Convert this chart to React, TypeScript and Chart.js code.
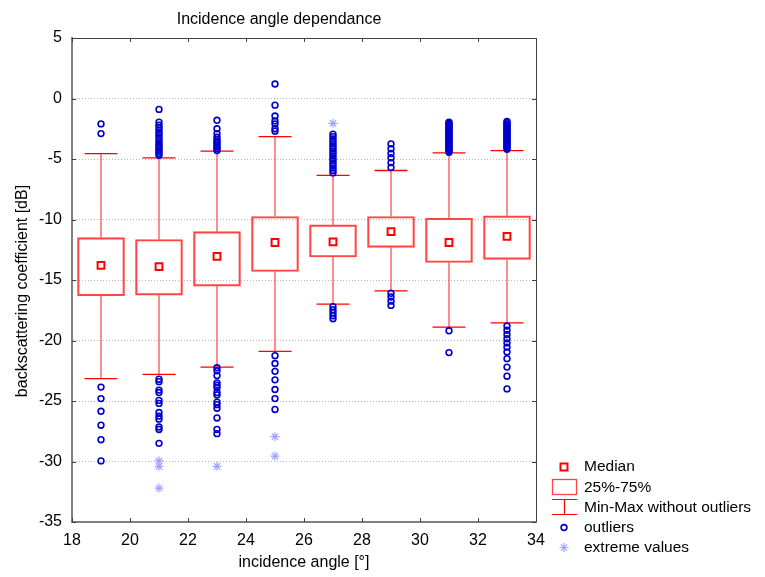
import React, { useEffect, useRef } from "react";
import { Chart, registerables } from "chart.js";

Chart.register(...registerables);

// ---------- data ----------
const angles = [19, 21, 23, 25, 27, 29, 31, 33];
const medians = [-13.8, -13.9, -13.05, -11.9, -11.85, -11.0, -11.9, -11.4];
const q25 = [-16.3, -16.25, -15.5, -14.3, -13.1, -12.3, -13.55, -13.3];
const q75 = [-11.5, -11.65, -11.0, -9.75, -10.45, -9.75, -9.9, -9.7];
const whiskerLow = [-23.15, -22.8, -22.2, -20.9, -17.0, -15.9, -18.9, -18.55];
const whiskerHigh = [-4.55, -4.9, -4.35, -3.15, -6.35, -5.95, -4.5, -4.3];

const outliers19 = [-2.1, -2.9, -23.85, -24.8, -25.85, -27.0, -28.2, -29.95];
const outliers21 = [-0.9, -1.95, -2.2, -2.4, -2.6, -2.8, -3.0, -3.2, -3.4, -3.6, -3.8, -3.95, -4.1, -4.25, -4.4, -4.55, -4.7,
  -23.2, -23.4, -24.1, -24.3, -24.95, -25.2, -25.95, -26.25, -26.5, -27.15, -27.35, -28.5];
const outliers23 = [-1.8, -2.5, -2.9, -3.2, -3.4, -3.55, -3.7, -3.85, -4.0, -4.15, -4.3,
  -22.25, -22.5, -22.9, -23.5, -23.7, -23.9, -24.3, -24.5, -25.1, -25.3, -25.6, -26.4, -27.35, -27.7];
const outliers25 = [1.2, -0.55, -1.45, -1.85, -2.1, -2.5, -2.7, -21.25, -21.9, -22.55, -23.25, -24.05, -24.8, -25.7];
const outliers27 = [-2.95, -3.15, -3.35, -3.55, -3.75, -3.95, -4.15, -4.35, -4.55, -4.75, -4.95, -5.15, -5.35, -5.55, -5.75, -5.95, -6.15,
  -17.2, -17.45, -17.7, -17.95, -18.2];
const outliers29 = [-3.75, -4.15, -4.55, -4.9, -5.3, -5.7, -16.1, -16.4, -16.75, -17.1];
const outliers31 = [-1.95, -2.05, -2.15, -2.25, -2.35, -2.45, -2.55, -2.65, -2.75, -2.85, -2.95, -3.05, -3.15, -3.25, -3.35,
  -3.45, -3.55, -3.65, -3.75, -3.85, -3.95, -4.05, -4.15, -4.25, -4.35, -4.45, -19.2, -21.0];
const outliers33 = [-1.9, -2.0, -2.1, -2.2, -2.3, -2.4, -2.5, -2.6, -2.7, -2.8, -2.9, -3.0, -3.1, -3.2, -3.3, -3.4, -3.5, -3.6,
  -3.7, -3.8, -3.9, -4.0, -4.1, -4.2, -18.8, -19.15, -19.5, -19.85, -20.2, -20.55, -20.95, -21.5, -22.2, -22.95, -24.0];
const outlierSets = [outliers19, outliers21, outliers23, outliers25, outliers27, outliers29, outliers31, outliers33];

const extremes21 = [-29.95, -30.4, -32.2];
const extremes23 = [-30.4];
const extremes25 = [-27.95, -29.55];
const extremes27 = [-2.05];
const extremeSets: [number, number[]][] = [[21, extremes21], [23, extremes23], [25, extremes25], [27, extremes27]];

const xTicks = { min: 18, max: 34, step: 2 };
const yTicks = { min: -35, max: 5, step: 5 };

const chartTitle = "Incidence angle dependance";
const xTitle = "incidence angle [°]";
const yTitle = "backscattering coefficient [dB]";
const legendLabels = ["Median", "25%-75%", "Min-Max without outliers", "outliers", "extreme values"];

// ---------- styles ----------
const FAMILY = '"Liberation Sans", Arial, sans-serif';
const FONT = '16px ' + FAMILY;
const LEGEND_FONT = '15.5px ' + FAMILY;
const RED = "#ff0000";
const BOX_RED = "#ff4545";
const BLUE = "#0000cc";
const LIGHT_BLUE = "#9ea4ff";

function drawStar(ctx: CanvasRenderingContext2D, x: number, y: number, r: number) {
  const d = Math.cos(Math.PI / 4) * r;
  ctx.beginPath();
  ctx.moveTo(x - r, y); ctx.lineTo(x + r, y);
  ctx.moveTo(x, y - r); ctx.lineTo(x, y + r);
  ctx.moveTo(x - d, y - d); ctx.lineTo(x + d, y + d);
  ctx.moveTo(x - d, y + d); ctx.lineTo(x + d, y - d);
  ctx.stroke();
}

const decorPlugin = {
  id: "decor",
  afterDraw(chart: any) {
    const { ctx, chartArea } = chart;
    const { left, right, top, bottom } = chartArea;
    const xs = chart.scales.x;
    const ys = chart.scales.y;
    ctx.save();
    // top/right frame
    ctx.strokeStyle = "#404040";
    ctx.lineWidth = 1;
    ctx.beginPath();
    ctx.moveTo(left, top + 0.5);
    ctx.lineTo(right + 0.5, top + 0.5);
    ctx.lineTo(right + 0.5, bottom);
    ctx.stroke();
    // inner ticks
    ctx.beginPath();
    xs.ticks.forEach((_t: any, i: number) => {
      const px = Math.round(xs.getPixelForTick(i)) + 0.5;
      ctx.moveTo(px, bottom); ctx.lineTo(px, bottom - 4);
      ctx.moveTo(px, top); ctx.lineTo(px, top + 4);
    });
    ys.ticks.forEach((_t: any, i: number) => {
      const py = Math.round(ys.getPixelForTick(i)) + 0.5;
      ctx.moveTo(left, py); ctx.lineTo(left + 4, py);
      ctx.moveTo(right, py); ctx.lineTo(right - 4, py);
    });
    ctx.stroke();

    // titles
    ctx.fillStyle = "#000";
    ctx.font = FONT;
    ctx.textAlign = "center";
    ctx.textBaseline = "alphabetic";
    ctx.fillText(chartTitle, 279, 24);
    ctx.fillText(xTitle, (left + right) / 2, 567);
    ctx.save();
    ctx.translate(27, 291);
    ctx.rotate(-Math.PI / 2);
    ctx.fillText(yTitle, 0, 0);
    ctx.restore();

    // legend
    const sx = 564;
    const rows = [467, 487.5, 507.5, 527.5, 547.5];
    ctx.strokeStyle = RED; ctx.lineWidth = 2;
    ctx.strokeRect(sx - 3.5, rows[0] - 3.5, 7, 7);
    ctx.strokeStyle = BOX_RED; ctx.lineWidth = 1.3;
    ctx.strokeRect(552.5, 479.5, 24, 15);
    ctx.strokeStyle = RED; ctx.lineWidth = 1.2;
    ctx.beginPath();
    ctx.moveTo(552, 499.5); ctx.lineTo(577, 499.5);
    ctx.moveTo(sx + 0.5, 499.5); ctx.lineTo(sx + 0.5, 514.5);
    ctx.moveTo(552, 514.5); ctx.lineTo(577, 514.5);
    ctx.stroke();
    ctx.strokeStyle = BLUE; ctx.lineWidth = 1.6;
    ctx.beginPath(); ctx.arc(sx, rows[3], 2.9, 0, Math.PI * 2); ctx.stroke();
    ctx.strokeStyle = LIGHT_BLUE; ctx.lineWidth = 1.2;
    drawStar(ctx, sx, rows[4], 4.5);

    ctx.fillStyle = "#000";
    ctx.font = LEGEND_FONT;
    ctx.textAlign = "left";
    ctx.textBaseline = "middle";
    legendLabels.forEach((t, i) => ctx.fillText(t, 584, rows[i]));
    ctx.restore();
  },
};

export default function App() {
  const ref = useRef<HTMLCanvasElement | null>(null);
  useEffect(() => {
    document.body.style.margin = "0";
    const canvas = ref.current;
    if (!canvas) return;

    const outlierPts: { x: number; y: number }[] = [];
    outlierSets.forEach((vals, i) => vals.forEach((v) => outlierPts.push({ x: angles[i], y: v })));
    const extremePts: { x: number; y: number }[] = [];
    extremeSets.forEach(([a, vals]) => vals.forEach((v) => extremePts.push({ x: a, y: v })));
    const medianPts = angles.map((a, i) => ({ x: a, y: medians[i] }));
    const capPts: { x: number; y: number }[] = [];
    angles.forEach((a, i) => { capPts.push({ x: a, y: whiskerHigh[i] }); capPts.push({ x: a, y: whiskerLow[i] }); });
    const whiskerPts: { x: number; y: number | null }[] = [];
    angles.forEach((a, i) => {
      whiskerPts.push({ x: a, y: whiskerHigh[i] }, { x: a, y: q75[i] }, { x: a, y: null });
      whiskerPts.push({ x: a, y: q25[i] }, { x: a, y: whiskerLow[i] }, { x: a, y: null });
    });
    const boxData = angles.map((a, i) => ({ x: a, y: [q25[i], q75[i]] }));

    const chart = new Chart(canvas, {
      type: "bar",
      data: {
        datasets: [
          {
            type: "scatter", label: "extreme values", data: extremePts as any,
            pointStyle: "star", pointRadius: 4.5, borderColor: LIGHT_BLUE, backgroundColor: LIGHT_BLUE, borderWidth: 1.2,
          },
          {
            type: "scatter", label: "outliers", data: outlierPts as any,
            pointStyle: "circle", pointRadius: 2.9, borderColor: BLUE, backgroundColor: "rgba(0,0,0,0)", borderWidth: 1.6,
          },
          {
            type: "scatter", label: "Median", data: medianPts as any,
            pointStyle: "rect", pointRadius: 4.8, borderColor: RED, backgroundColor: "rgba(0,0,0,0)", borderWidth: 2,
          },
          {
            type: "scatter", label: "caps", data: capPts as any,
            pointStyle: "line", pointRadius: 16.5, borderColor: RED, backgroundColor: RED, borderWidth: 1.3,
          },
          {
            type: "scatter", label: "whiskers", data: whiskerPts as any, showLine: true, spanGaps: false,
            pointRadius: 0, borderColor: "#ff5050", borderWidth: 1.3,
          } as any,
          {
            type: "bar", label: "25%-75%", data: boxData as any,
            barThickness: 47, borderColor: BOX_RED, borderWidth: 1.5, backgroundColor: "rgba(0,0,0,0)", borderSkipped: false,
          } as any,
        ],
      },
      options: {
        responsive: false,
        animation: false,
        events: [],
        layout: { padding: { top: 38, right: 229, left: 0, bottom: 0 } },
        plugins: { legend: { display: false }, title: { display: false }, tooltip: { enabled: false } },
        scales: {
          x: {
            type: "linear", min: xTicks.min, max: xTicks.max, offset: false,
            ticks: { stepSize: xTicks.step, color: "#000", font: { family: FAMILY, size: 16 }, padding: 9, maxRotation: 0 },
            grid: { display: false, drawTicks: false, offset: false },
            border: { color: "#7f7f7f", width: 2 },
            afterFit: (s: any) => { s.height = 55; },
          },
          y: {
            type: "linear", min: yTicks.min, max: yTicks.max,
            ticks: { stepSize: yTicks.step, color: "#000", font: { family: FAMILY, size: 16 }, padding: 10 },
            grid: { color: "#b8b8b8", lineWidth: 1, drawTicks: false },
            border: { color: "#7f7f7f", width: 2, dash: [1, 2] },
            afterFit: (s: any) => { s.width = 72; },
          },
        },
      } as any,
      plugins: [decorPlugin],
    });
    return () => chart.destroy();
  }, []);

  return (
    <div style={{ width: 765, height: 577, background: "#fff" }}>
      <canvas ref={ref} width={765} height={577} style={{ display: "block" }} />
    </div>
  );
}
